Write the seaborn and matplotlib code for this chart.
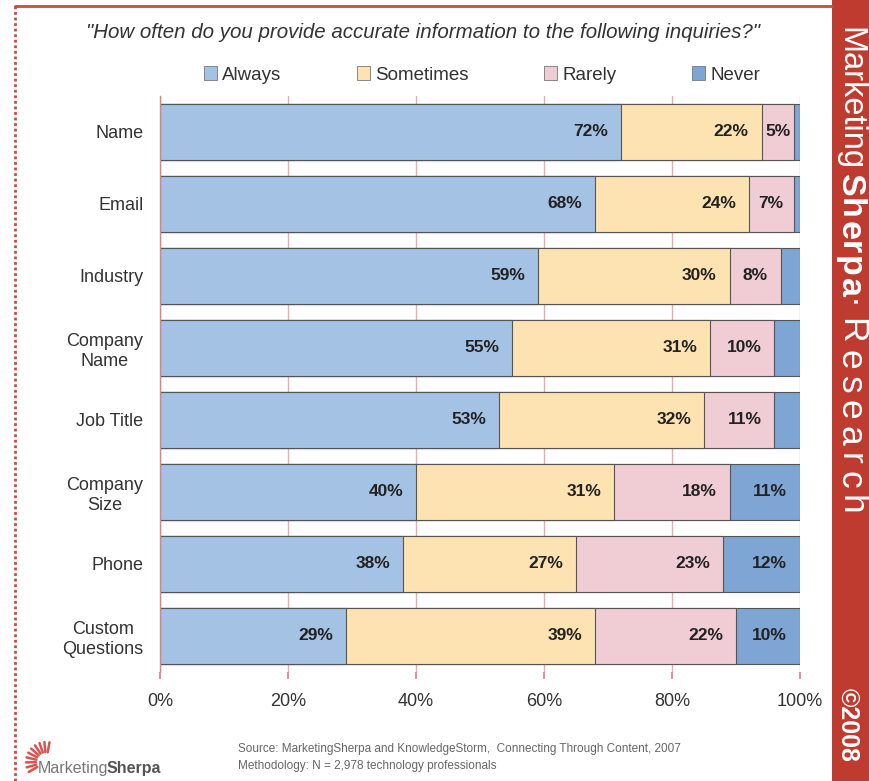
import numpy as np
import pandas as pd
import matplotlib
matplotlib.use("Agg")
import matplotlib.pyplot as plt
from matplotlib.patches import Rectangle, Patch
from matplotlib.lines import Line2D
import seaborn as sns

sns.set_theme(style="white")
plt.rcParams['font.family'] = ['Liberation Sans', 'DejaVu Sans']

# data
categories = ["Name", "Email", "Industry", "Company\nName", "Job Title",
              "Company\nSize", "Phone", "Custom\nQuestions"]
always = [72, 68, 59, 55, 53, 40, 38, 29]
sometimes = [22, 24, 30, 31, 32, 31, 27, 39]
rarely = [5, 7, 8, 10, 11, 18, 23, 22]
never = [1, 1, 3, 4, 4, 11, 12, 10]
series = ["Always", "Sometimes", "Rarely", "Never"]
colors = ["#a4c2e4", "#fde3b2", "#f0ccd4", "#7fa5d4"]
xticks = [0, 20, 40, 60, 80, 100]

df = pd.DataFrame({"cat": categories, "Always": always, "Sometimes": sometimes,
                   "Rarely": rarely, "Never": never})
cum = df[series].cumsum(axis=1)

fig = plt.figure(figsize=(8.69, 7.81), dpi=100)
W, H = 869, 781
ax = fig.add_axes([160 / W, 1 - 672 / H, 640 / W, 576 / H])

# stacked bars: draw cumulative totals back to front
for s, c in reversed(list(zip(series, colors))):
    sns.barplot(x=cum[s], y=df["cat"], color=c, orient="h", width=0.78,
                saturation=1, edgecolor="#555555", linewidth=0.8, ax=ax, zorder=2)

# value labels
for i in range(len(categories)):
    for s in series:
        v = df.loc[i, s]
        end = cum.loc[i, s]
        if s == "Never" and v < 10:
            continue
        if v < 10:
            x, ha = end - v / 2, "center"
        else:
            x, ha = end - 2, "right"
        ax.text(x, i, f"{v}%", ha=ha, va="center", fontsize=12.5,
                fontweight="bold", color="#222222", zorder=3)

ax.set_xlim(0, 100)
ax.set_ylim(7.5, -0.5)
ax.set_xticks(xticks)
ax.set_xticklabels([f"{t}%" for t in xticks], fontsize=13, color="#333333")
ax.tick_params(axis="x", pad=10, length=5, color="#e08080", direction="out", bottom=True)
ax.tick_params(axis="y", labelsize=13, labelcolor="#333333", pad=12, length=0)
ax.set_xlabel("")
ax.set_ylabel("")
for lbl in ax.get_yticklabels():
    lbl.set_multialignment("center")
    lbl.set_linespacing(1.25)
ax.xaxis.grid(True, color="#eeaaaa", linewidth=1, zorder=0)
ax.set_axisbelow(True)
for sp in ["top", "right", "bottom"]:
    ax.spines[sp].set_visible(False)
ax.spines["left"].set_color("#e08080")
ax.spines["left"].set_linewidth(1)

# title and legend
fig.text(423 / W, 1 - 32 / H,
         "\"How often do you provide accurate information to the following inquiries?\"",
         ha="center", va="center", fontsize=14.8, style="italic", color="#333333")
handles = [Patch(facecolor=c, edgecolor="#777777", linewidth=0.6) for c in colors]
fig.legend(handles, series, loc="center", bbox_to_anchor=(482 / W, 1 - 75 / H),
           ncol=4, frameon=False, fontsize=13.5, handlelength=0.7, handleheight=0.7,
           handletextpad=0.3, columnspacing=4.0, labelcolor="#333333")

# red frame and side band
fig.add_artist(Line2D([15 / W, 15 / W], [0, 1 - 6 / H], color="#c94a42", linewidth=2,
                      linestyle=(0, (1, 1)), transform=fig.transFigure))
fig.add_artist(Line2D([15 / W, 832 / W], [1 - 6 / H, 1 - 6 / H], color="#c94a42",
                      linewidth=2, transform=fig.transFigure))
fig.add_artist(Rectangle((832 / W, 0), 37 / W, 1, facecolor="#bf3b30",
                         edgecolor="none", transform=fig.transFigure))

renderer = fig.canvas.get_renderer()


def vpiece(txt, y, size, weight, gap=0):
    t = fig.text(841 / W, 1 - y / H, txt, rotation=-90, rotation_mode="anchor",
                 ha="left", va="baseline", fontsize=size, color="white",
                 fontweight=weight)
    return y + t.get_window_extent(renderer).height + gap


y = vpiece("Marketing", 27, 23.5, "normal", 4)
for ch in "Sherpa":
    y = vpiece(ch, y, 24.5, "bold", 1.5)
for ch in "\u00b7Research":
    y = vpiece(ch, y + 1, 25.5, "normal", 5.5)
fig.text(841 / W, 1 - 688 / H, "\u00a92008", rotation=-90, rotation_mode="anchor",
         ha="left", va="baseline", fontsize=18, color="white", fontweight="bold")

# logo bottom-left
cx, cy = 46, 762
for a in np.linspace(80, 210, 10):
    r = np.radians(a)
    fig.add_artist(Line2D([(cx + 10 * np.cos(r)) / W, (cx + 20 * np.cos(r)) / W],
                          [1 - (cy - 10 * np.sin(r)) / H, 1 - (cy - 20 * np.sin(r)) / H],
                          color="#d9534f", linewidth=1.8, transform=fig.transFigure))
t1 = fig.text(38 / W, 1 - 768 / H, "Marketing", ha="left", va="center", fontsize=11.5,
              color="#777777")
x2 = t1.get_window_extent(renderer).x1 - 2
fig.text(x2 / W, 1 - 768 / H, "Sherpa", ha="left", va="center", fontsize=11.5,
         color="#555555", fontweight="bold")

# source note
fig.text(238 / W, 1 - 749 / H,
         "Source: MarketingSherpa and KnowledgeStorm,  Connecting Through Content, 2007",
         ha="left", va="center", fontsize=8.5, color="#666666")
fig.text(238 / W, 1 - 766 / H,
         "Methodology: N = 2,978 technology professionals",
         ha="left", va="center", fontsize=8.5, color="#666666")

fig.savefig("out.png", dpi=100)
